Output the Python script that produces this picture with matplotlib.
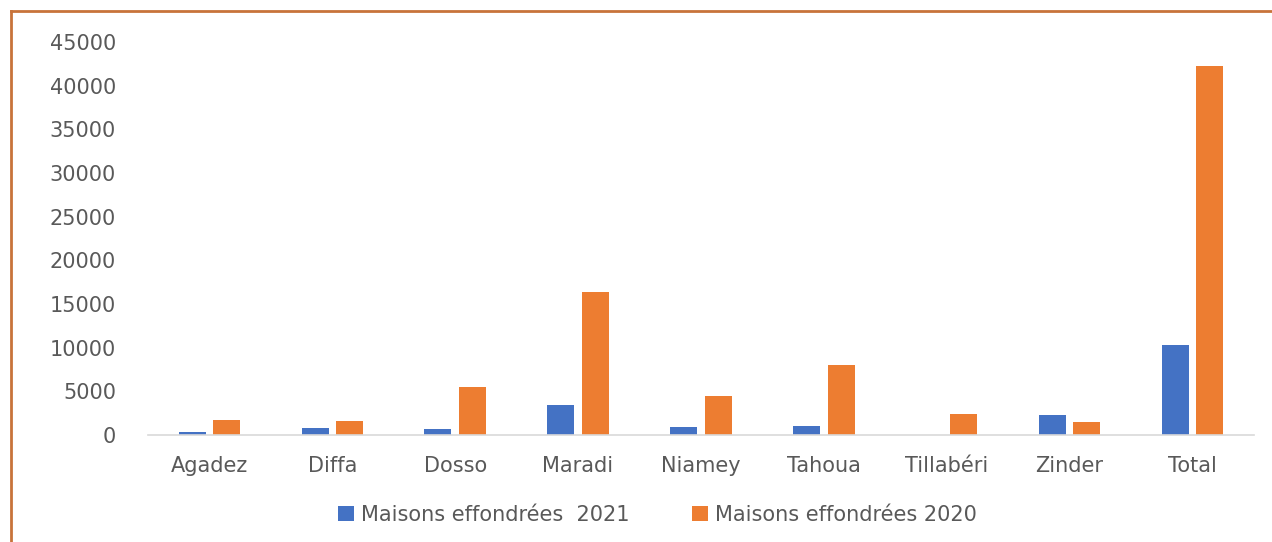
import numpy as np
import matplotlib.pyplot as plt
from matplotlib.lines import Line2D

# données
regions = ['Agadez', 'Diffa', 'Dosso', 'Maradi', 'Niamey', 'Tahoua', 'Tillabéri', 'Zinder', 'Total']
maisons_2021 = [350, 830, 690, 3470, 950, 1060, 30, 2250, 10270]
maisons_2020 = [1700, 1600, 5530, 16370, 4500, 8010, 2440, 1520, 42240]
yticks = [0, 5000, 10000, 15000, 20000, 25000, 30000, 35000, 40000, 45000]

plt.rcParams['font.family'] = ['DejaVu Sans']

fig = plt.figure(figsize=(12.72, 5.42), dpi=100)
ax = fig.add_axes([0.1163, 0.1974, 0.8695, 0.7251])

x = np.arange(len(regions))
w = 0.22
ax.bar(x - w / 2 - 0.03, maisons_2021, w, color='#4472C4', label='Maisons effondrées  2021')
ax.bar(x + w / 2 + 0.03, maisons_2020, w, color='#ED7D31', label='Maisons effondrées 2020')

ax.set_xlim(-0.5, len(regions) - 0.5)
ax.set_ylim(0, 45000)
ax.set_yticks(yticks)
ax.set_yticklabels([str(v) for v in yticks])
ax.set_xticks(x)
ax.set_xticklabels(regions)
ax.tick_params(axis='y', length=0, pad=23, labelsize=15, labelcolor='#595959')
ax.tick_params(axis='x', length=0, pad=15, labelsize=15, labelcolor='#595959')

for s in ['top', 'right', 'left']:
    ax.spines[s].set_visible(False)
ax.spines['bottom'].set_color('#D9D9D9')
ax.spines['bottom'].set_linewidth(1.2)

ax.legend(loc='center', bbox_to_anchor=(0.517, 0.05), bbox_transform=fig.transFigure,
          ncol=2, frameon=False, fontsize=15, labelcolor='#595959',
          handlelength=0.75, handleheight=0.75, handletextpad=0.35, columnspacing=3.0)

# cadre orange (haut et gauche)
fig.add_artist(Line2D([0.0085, 1.0], [0.979, 0.979], transform=fig.transFigure,
                      color='#C8733A', linewidth=2))
fig.add_artist(Line2D([0.0085, 0.0085], [0.0, 0.979], transform=fig.transFigure,
                      color='#C8733A', linewidth=2))

fig.savefig('out.png', dpi=100)
